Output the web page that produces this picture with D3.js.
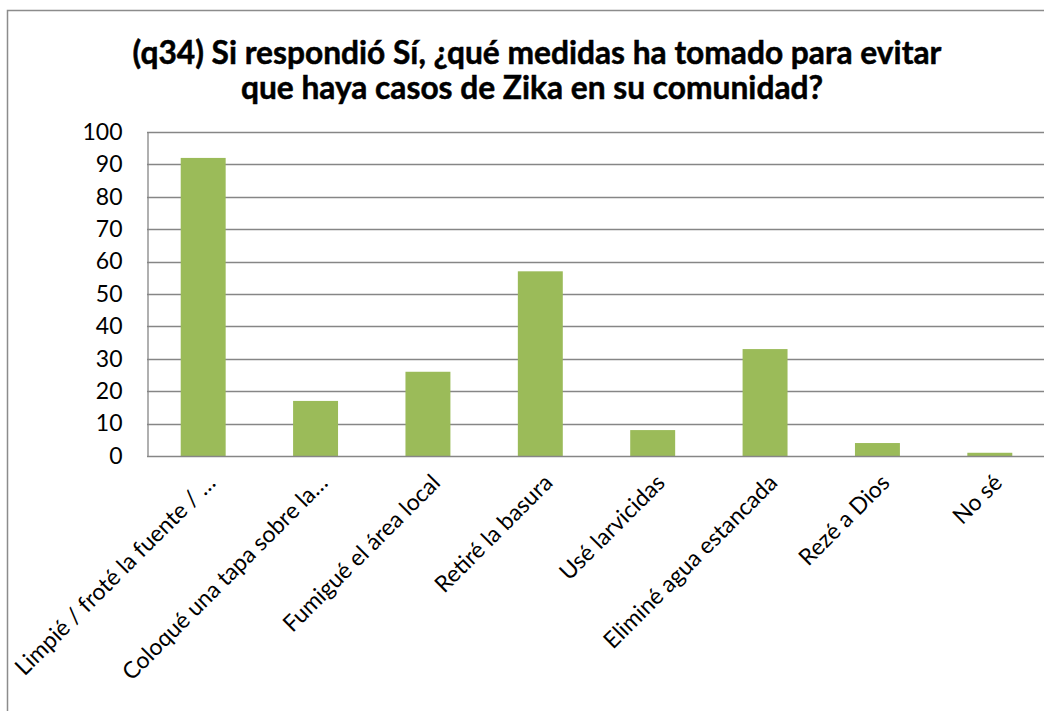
<!DOCTYPE html>
<html>
<head>
<meta charset="utf-8">
<script src="https://cdn.jsdelivr.net/npm/d3@7/dist/d3.min.js"></script>
<style>
  html, body { margin: 0; padding: 0; background: #fff; }
  svg { display: block; }
  text { font-family: Lato, Carlito, Calibri, "Open Sans", sans-serif; }
</style>
</head>
<body>
<svg id="chart" width="1044" height="711"></svg>
<script>
const titleLines = [
  "(q34) Si respondió Sí, ¿qué medidas ha tomado para evitar",
  "que haya casos de Zika en su comunidad?"
];
const categories = [
  "Limpié / froté la fuente / …",
  "Coloqué una tapa sobre la…",
  "Fumigué el área local",
  "Retiré la basura",
  "Usé larvicidas",
  "Eliminé agua estancada",
  "Rezé a Dios",
  "No sé"
];
const values = [92, 17, 26, 57, 8, 33, 4, 1];
const yTicks = [0, 10, 20, 30, 40, 50, 60, 70, 80, 90, 100];

const svg = d3.select("#chart");
const W = 1044, H = 711;
const plot = { left: 147, right: 1046, top: 132, bottom: 456 };

svg.append("rect").attr("x", 0).attr("y", 0).attr("width", W).attr("height", H).attr("fill", "#fff");
// outer chart border (only top/left visible)
svg.append("rect")
  .attr("x", 7.5).attr("y", 10.5).attr("width", 1200).attr("height", 900)
  .attr("fill", "none").attr("stroke", "#8c8c8c").attr("stroke-width", 1.5);

const x = d3.scaleBand().domain(categories).range([plot.left, plot.right])
  .paddingInner(0.6).paddingOuter(0.3);
const y = d3.scaleLinear().domain([0, 100]).range([plot.bottom, plot.top]);

// gridlines
svg.append("g").selectAll("line").data(yTicks.filter(d => d > 0)).join("line")
  .attr("x1", plot.left).attr("x2", plot.right)
  .attr("y1", d => Math.round(y(d)) + 0.5).attr("y2", d => Math.round(y(d)) + 0.5)
  .attr("stroke", "#868686").attr("stroke-width", 1.3);

// bars
svg.append("g").selectAll("rect").data(values).join("rect")
  .attr("x", (d, i) => x(categories[i]))
  .attr("y", d => y(d))
  .attr("width", x.bandwidth())
  .attr("height", d => y(0) - y(d))
  .attr("fill", "#9BBB59");

const FS = 23;
// y axis
const yAxis = d3.axisLeft(y).tickValues(yTicks).tickSize(0).tickPadding(25);
const gy = svg.append("g").attr("transform", `translate(${plot.left + 0.5},0)`).call(yAxis);
gy.select(".domain").attr("stroke", "#868686").attr("stroke-width", 1.3);
gy.selectAll("text").attr("font-size", FS).attr("fill", "#000")
  .style("font-family", "Lato, Carlito, Calibri, sans-serif");

// x axis
const xAxis = d3.axisBottom(x).tickSize(0).tickFormat(d => d);
const gx = svg.append("g").attr("transform", `translate(0,${Math.round(plot.bottom) + 0.5})`).call(xAxis);
gx.select(".domain").attr("stroke", "#868686").attr("stroke-width", 1.3).attr("d", `M${plot.left},0H${plot.right}`);
gx.selectAll(".tick text")
  .attr("font-size", FS).attr("fill", "#000")
  .style("font-family", "Lato, Carlito, Calibri, sans-serif")
  .attr("text-anchor", "end")
  .attr("x", 0).attr("y", 0).attr("dy", "0.35em")
  .attr("transform", "translate(8,22) rotate(-45)");

// title
const title = svg.append("g");
const tl1 = title.append("text").text(titleLines[0])
  .attr("x", 537).attr("y", 64).attr("text-anchor", "middle")
  .attr("font-weight", "bold").attr("font-size", 26).attr("fill", "#000")
  .attr("stroke", "#000").attr("stroke-width", 0.5);
const tl2 = title.append("text").text(titleLines[1])
  .attr("x", 532).attr("y", 99).attr("text-anchor", "middle")
  .attr("font-weight", "bold").attr("font-size", 26).attr("fill", "#000")
  .attr("stroke", "#000").attr("stroke-width", 0.5);
// fit to measured reference width
const w1 = tl1.node().getComputedTextLength();
const fs = 26 * 809 / w1;
tl1.attr("font-size", fs);
tl2.attr("font-size", fs);
</script>
</body>
</html>
